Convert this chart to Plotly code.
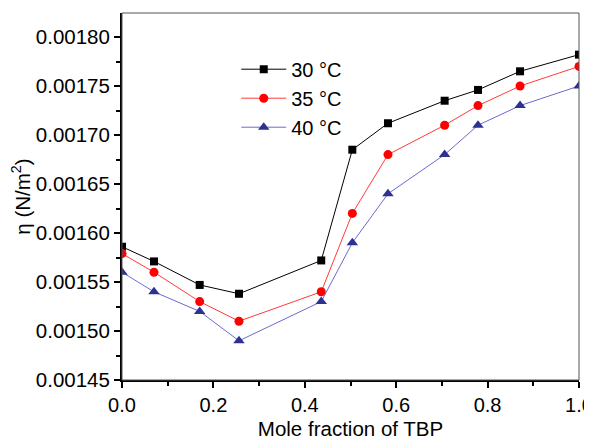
import plotly.graph_objects as go

x_frac = [0.0, 0.07, 0.17, 0.256, 0.436, 0.504, 0.582, 0.706, 0.779, 0.871, 1.0]
eta_30 = [0.001586, 0.001571, 0.001547, 0.001538, 0.001572, 0.001685, 0.001712, 0.001735, 0.001746, 0.001765, 0.001782]
eta_35 = [0.001579, 0.00156, 0.00153, 0.00151, 0.00154, 0.00162, 0.00168, 0.00171, 0.00173, 0.00175, 0.00177]
eta_40 = [0.00156, 0.00154, 0.00152, 0.00149, 0.00153, 0.00159, 0.00164, 0.00168, 0.00171, 0.00173, 0.00175]
labels = ["30 °C", "35 °C", "40 °C"]
x_ticks = [0.0, 0.2, 0.4, 0.6, 0.8, 1.0]
x_ticklabels = ["0.0", "0.2", "0.4", "0.6", "0.8", "1.0"]

FONT = "Liberation Sans, Arial, sans-serif"

fig = go.Figure()
fig.add_trace(go.Scatter(x=x_frac, y=eta_30, name=labels[0], mode="lines+markers",
                         line=dict(color="#000000", width=1),
                         marker=dict(symbol="square", size=8, color="#000000")))
fig.add_trace(go.Scatter(x=x_frac, y=eta_35, name=labels[1], mode="lines+markers",
                         line=dict(color="#ff3b3b", width=1),
                         marker=dict(symbol="circle", size=9, color="#ff0000")))
fig.add_trace(go.Scatter(x=x_frac, y=eta_40, name=labels[2], mode="lines+markers",
                         line=dict(color="#6a6ad0", width=1),
                         marker=dict(symbol="triangle-up", size=10, color="#2e3192")))

# page body has an 8px default margin, so margins are shifted to compensate
fig.update_layout(
    width=592, height=442,
    margin=dict(l=114, r=21, t=5, b=70),
    paper_bgcolor="white", plot_bgcolor="white",
    font=dict(family=FONT, size=20, color="#000000"),
    showlegend=True,
    legend=dict(x=0.25, y=0.9, xanchor="left", yanchor="top",
                bgcolor="rgba(0,0,0,0)", font=dict(size=20), tracegroupgap=0,
                itemwidth=45),
    xaxis=dict(range=[0, 1], tickmode="array", tickvals=x_ticks, ticktext=x_ticklabels,
               automargin=False, ticklabeloverflow="allow",
               showgrid=False, zeroline=False,
               showline=True, linecolor="#000000", linewidth=2,
               ticks="outside", ticklen=6, tickwidth=1.5, tickcolor="#000000",
               minor=dict(dtick=0.1, tick0=0, ticks="outside", ticklen=4, tickwidth=1.5, tickcolor="#000000"),
               tickfont=dict(size=20),
               title=dict(text="Mole fraction of TBP", font=dict(size=20.5), standoff=7)),
    yaxis=dict(range=[0.00145, 0.0018245], tick0=0.00145, dtick=0.00005, tickformat=".5f",
               automargin=False, ticklabeloverflow="allow",
               showgrid=False, zeroline=False,
               showline=True, linecolor="#000000", linewidth=2,
               ticks="outside", ticklen=6, tickwidth=1.5, tickcolor="#000000",
               minor=dict(dtick=0.000025, ticks="outside", ticklen=4, tickwidth=1.5, tickcolor="#000000"),
               tickfont=dict(size=20.5),
               title=dict(text="η (N/m<sup>2</sup>)", font=dict(size=20.5), standoff=4)),
)

fig.add_shape(type="rect", xref="paper", yref="paper", x0=0, y0=0, x1=1, y1=1,
              line=dict(color="#555555", width=1), layer="above")

fig.write_html("out.html")
